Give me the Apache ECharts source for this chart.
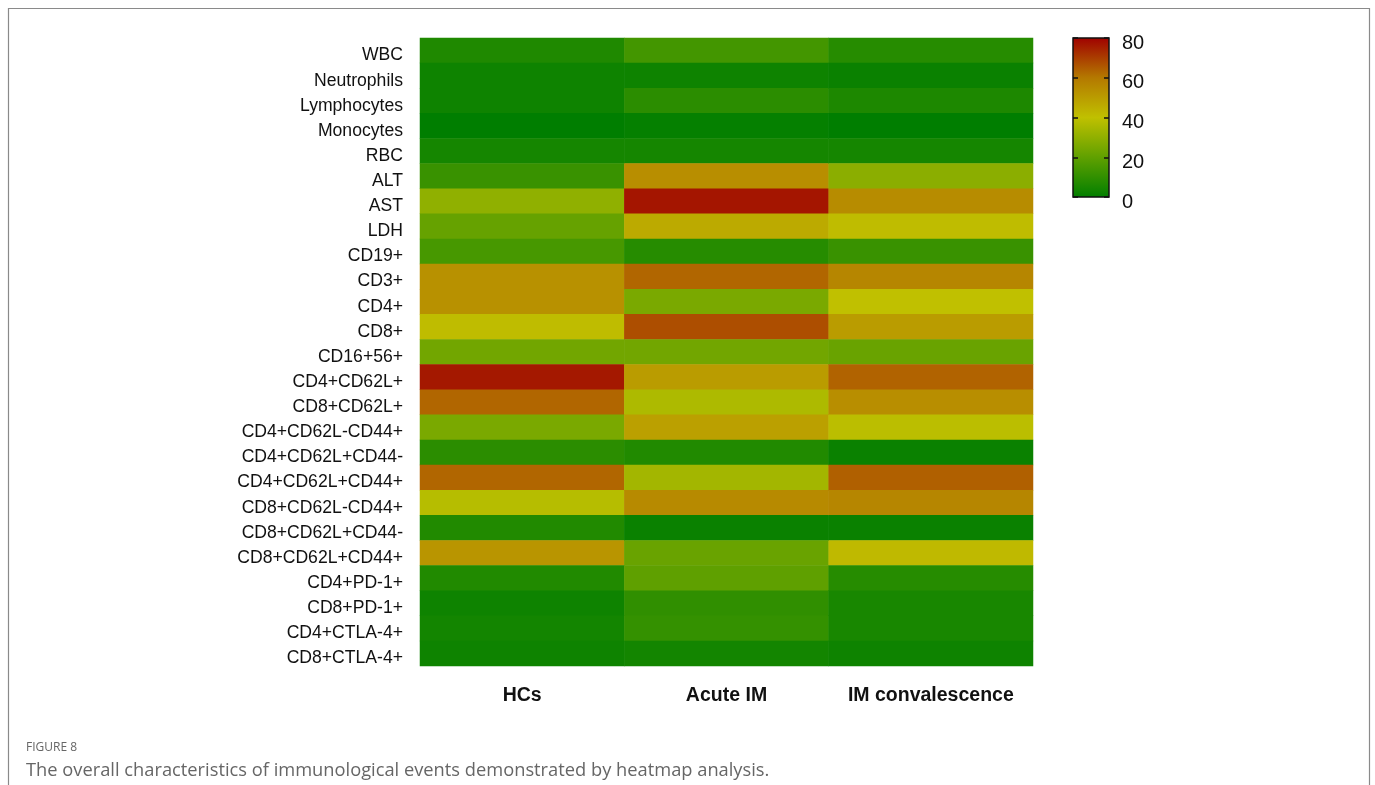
<!DOCTYPE html>
<html>
<head>
<meta charset="utf-8">
<script src="https://cdn.jsdelivr.net/npm/echarts@6/dist/echarts.min.js"></script>
<style>html,body{margin:0;padding:0;background:#fff;}#c{width:1375px;height:785px;}</style>
</head>
<body>
<div id="c"></div>
<script>
var groups = ['HCs', 'Acute IM', 'IM convalescence'];
var markers = ['WBC','Neutrophils','Lymphocytes','Monocytes','RBC','ALT','AST','LDH','CD19+','CD3+','CD4+','CD8+','CD16+56+','CD4+CD62L+','CD8+CD62L+','CD4+CD62L-CD44+','CD4+CD62L+CD44-','CD4+CD62L+CD44+','CD8+CD62L-CD44+','CD8+CD62L+CD44-','CD8+CD62L+CD44+','CD4+PD-1+','CD8+PD-1+','CD4+CTLA-4+','CD8+CTLA-4+'];
var hcs   = [6.5, 3, 3, 0, 4.5, 12, 30, 21.5, 15, 53, 53, 41, 24, 76, 63, 25.5, 9, 63, 38, 7, 52, 7, 3, 4, 3];
var acute = [14, 3, 9, 1, 4.5, 54, 76.5, 46, 8, 63, 25.5, 67, 24, 50, 36, 49, 7, 34, 55, 2, 22, 20, 10, 11, 4];
var conv  = [8, 2, 6, 0, 4.5, 29, 54.5, 41, 12, 56, 40, 50, 22, 63.5, 54, 39, 2, 64, 56, 2, 42, 8, 5, 5, 3];
var colorTicks = [0, 20, 40, 60, 80];

var rampColors = ['#007E00', '#5FA000', '#C0C000', '#B47800', '#A00000'];

var cols = [hcs, acute, conv];
var data = [];
cols.forEach(function (arr, ci) {
  arr.forEach(function (v, ri) { data.push([ci, ri, v]); });
});

var gradStops = rampColors.map(function (c, i) {
  return {offset: 1 - i / (rampColors.length - 1), color: c};
}).reverse();

var chart = echarts.init(document.getElementById('c'), null, {renderer: 'canvas'});
var font = 'Liberation Sans, Arial, sans-serif';
chart.setOption({
  animation: false,
  backgroundColor: '#fff',
  grid: [
    {left: 420, top: 38, width: 613, height: 628, containLabel: false},
    {left: 1073, top: 38, width: 36, height: 159, show: true, borderColor: '#111', borderWidth: 1.5, z: 0,
     backgroundColor: new echarts.graphic.LinearGradient(0, 0, 0, 1, gradStops)}
  ],
  xAxis: [
    {type: 'category', data: groups, gridIndex: 0, position: 'bottom',
     axisLine: {show: false}, axisTick: {show: false}, splitLine: {show: false},
     axisLabel: {interval: 0, fontFamily: font, fontSize: 19.5, fontWeight: 'bold', color: '#111', margin: 20}},
    {type: 'value', gridIndex: 1, show: false, min: 0, max: 1}
  ],
  yAxis: [
    {type: 'category', data: markers, inverse: true, gridIndex: 0,
     axisLine: {show: false}, axisTick: {show: false}, splitLine: {show: false},
     axisLabel: {interval: 0, color: '#111', margin: 17,
       formatter: function (v) { return '{a|' + v + '}'; },
       rich: {a: {fontFamily: font, fontSize: 17.6, color: '#111', padding: [10, 0, 0, 0]}}}},
    {type: 'value', gridIndex: 1, position: 'right', min: 0, max: 80, interval: 20, z: 6,
     axisLine: {show: false}, splitLine: {show: false},
     axisTick: {show: false},
     axisLabel: {margin: 13,
       formatter: function (v) { return colorTicks.indexOf(v) >= 0 ? '{a|' + v + '}' : ''; },
       rich: {a: {fontFamily: font, fontSize: 20, color: '#111', padding: [10, 0, 0, 0]}}}},
    {type: 'value', gridIndex: 1, position: 'left', offset: -36, min: 0, max: 80, interval: 20, z: 6,
     axisLine: {show: false}, splitLine: {show: false},
     axisTick: {show: true, length: 5, lineStyle: {color: '#111', width: 1.5}},
     axisLabel: {show: false}},
    {type: 'value', gridIndex: 1, position: 'right', offset: -36, min: 0, max: 80, interval: 20, z: 6,
     axisLine: {show: false}, splitLine: {show: false},
     axisTick: {show: true, length: 5, lineStyle: {color: '#111', width: 1.5}},
     axisLabel: {show: false}}
  ],
  visualMap: {
    type: 'continuous', min: 0, max: 80, seriesIndex: 0, show: false,
    inRange: {color: rampColors}
  },
  series: [
    {type: 'heatmap', xAxisIndex: 0, yAxisIndex: 0, data: data,
     itemStyle: {borderWidth: 0}, emphasis: {disabled: true}},
    {type: 'scatter', xAxisIndex: 1, yAxisIndex: 1, data: [], silent: true},
    {type: 'scatter', xAxisIndex: 1, yAxisIndex: 2, data: [], silent: true},
    {type: 'scatter', xAxisIndex: 1, yAxisIndex: 3, data: [], silent: true}
  ],
  graphic: [
    {type: 'polyline', silent: true, shape: {points: [[8.5, 800], [8.5, 8.5], [1369.5, 8.5], [1369.5, 800]]},
     style: {stroke: '#8a8a8a', lineWidth: 1.2, fill: null}},
    {type: 'text', left: 26, top: 742, style: {text: 'FIGURE 8', fontFamily: 'Open Sans, sans-serif', fontSize: 12, fill: '#666'}},
    {type: 'text', left: 26, top: 762, style: {text: 'The overall characteristics of immunological events demonstrated by heatmap analysis.', fontFamily: 'Open Sans, sans-serif', fontSize: 18.3, fill: '#666'}}
  ]
});
</script>
</body>
</html>
